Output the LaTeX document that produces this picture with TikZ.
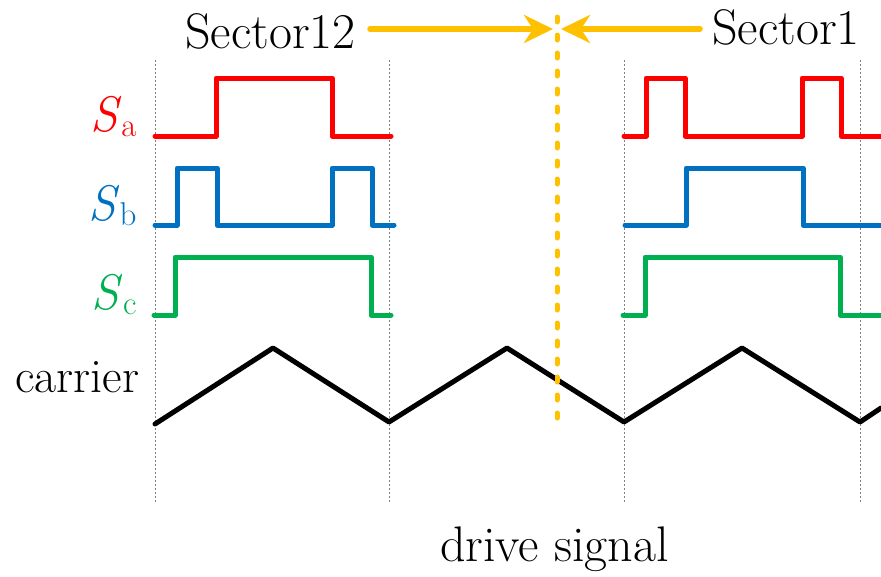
\documentclass[tikz,border=0pt]{standalone}
\usepackage{xcolor}
\usepackage{tikz}
\definecolor{sigred}{HTML}{FF0000}
\definecolor{sigblue}{HTML}{0070C0}
\definecolor{siggreen}{HTML}{00B050}
\definecolor{secorange}{HTML}{FFC000}
\usetikzlibrary{arrows.meta, positioning, calc}
\newcommand{\sig}[1]{\textit{S}\raisebox{-5pt}{\fontsize{33}{33}\selectfont #1}}

\begin{document}
\begin{tikzpicture}[x=1pt, y=-1pt, font=\rmfamily\fontsize{50}{54}\selectfont,
  wave/.style={line width=5pt, line join=round, line cap=round},
  gridline/.style={gray, line width=0.8pt, dash pattern=on 2pt off 2pt},
  secarrow/.style={secorange, line width=5.5pt, line cap=round, -{Stealth[length=29pt, width=28pt, inset=9pt]}}]
\useasboundingbox (0,0) rectangle (881,576);
\foreach \x in {155,389,624,860} \draw[gridline] (\x,60) -- (\x,502);
\node[anchor=base east, text=sigred] (la) at (140,131) {\sig{a}};
\node[anchor=base east, text=sigblue] (lb) at (140,220) {\sig{b}};
\node[anchor=base east, text=siggreen] (lc) at (140,309) {\sig{c}};
\node[anchor=base west, inner sep=0pt, font=\rmfamily\fontsize{48}{52}\selectfont] (carrier) at (15,392) {carrier};
\node[anchor=base west, inner sep=0pt] (sec12) at (185,48) {Sector12};
\node[anchor=base west, inner sep=0pt] (sec1) at (712,44) {Sector1};
\node[anchor=base west, inner sep=0pt] (drive) at (440,561) {drive signal};
% switching signals
\draw[wave, sigred] (155,136) -- (216,136) -- (216,78) -- (332,78) -- (332,136) -- (391,136);
\draw[wave, sigred] (624,136) -- (646,136) -- (646,78) -- (685,78) -- (685,136) -- (802,136) -- (802,78) -- (841,78) -- (841,136) -- (881,136);
\draw[wave, sigblue] (155,225) -- (177,225) -- (177,168) -- (217,168) -- (217,225) -- (332,225) -- (332,168) -- (372,168) -- (372,225) -- (394,225);
\draw[wave, sigblue] (625,225) -- (686,225) -- (686,168) -- (803,168) -- (803,225) -- (881,225);
\draw[wave, siggreen] (154,315) -- (175,315) -- (175,257) -- (371,257) -- (371,315) -- (391,315);
\draw[wave, siggreen] (623,315) -- (645,315) -- (645,257) -- (840,257) -- (840,315) -- (881,315);
% carrier
\draw[wave] (155,424) -- (273,348) -- (389,422) -- (507,348) -- (624,422) -- (742,348) -- (860,422) -- (881,408);
% sector boundary
\coordinate (top) at (557,17);
\coordinate (bot) at (557,430);
\draw[secorange, line width=5pt, line cap=round, dash pattern=on 5pt off 13pt] (top) -- (bot);
\coordinate (s12start) at (370,29);
\coordinate (s12end) at (553,29);
\coordinate (s1start) at (700,29);
\coordinate (s1end) at (561,29);
\draw[secarrow] (s12start) -- (s12end);
\draw[secarrow] (s1start) -- (s1end);
\end{tikzpicture}
\end{document}
